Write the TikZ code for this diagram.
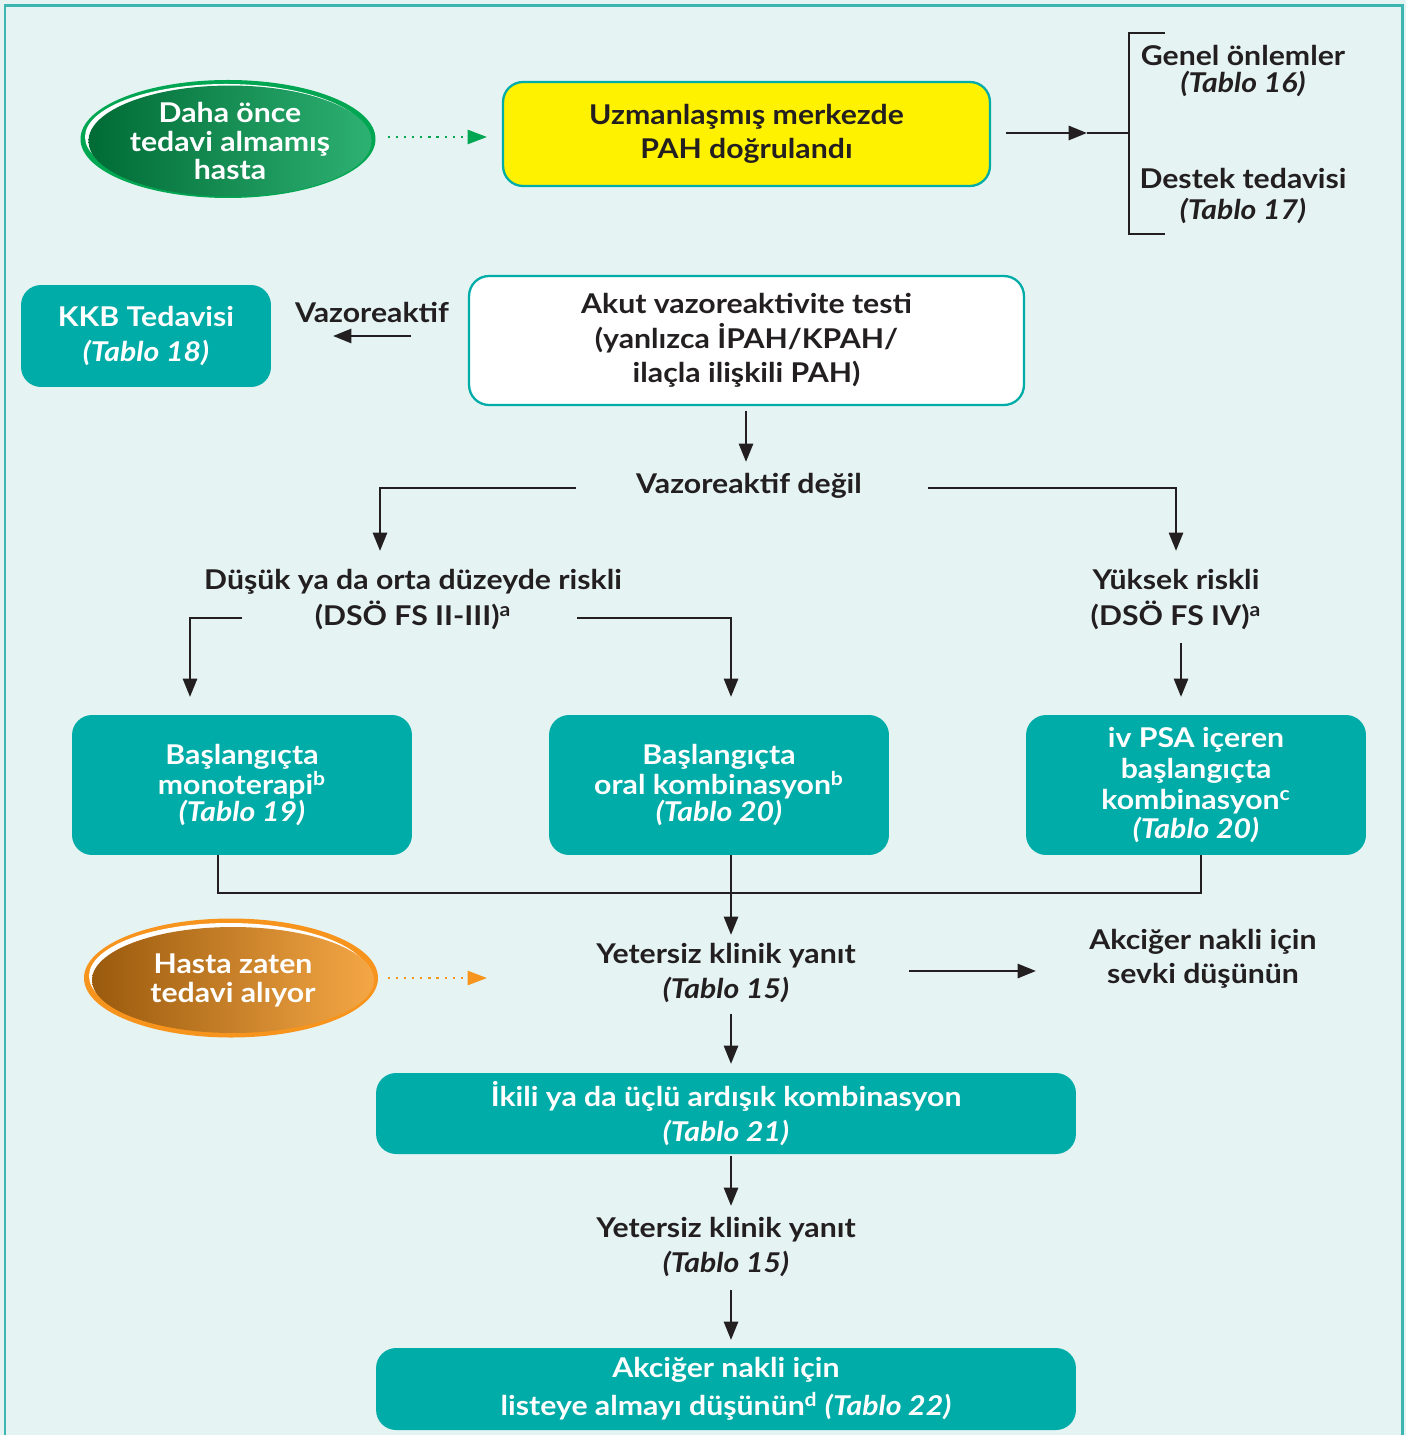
\documentclass[tikz,border=0pt]{standalone}
\usepackage{fontspec}
\setmainfont{Lato}[FakeStretch=1.11]
\usetikzlibrary{arrows.meta,shapes.geometric}
\definecolor{bgc}{HTML}{E5F4F3}
\definecolor{framec}{HTML}{3DB5B1}
\definecolor{tealc}{HTML}{00ACA7}
\definecolor{yellowc}{HTML}{FFF200}
\definecolor{txtc}{HTML}{231F20}
\definecolor{gring}{HTML}{00A651}
\definecolor{gdark}{HTML}{006B35}
\definecolor{glight}{HTML}{2DB172}
\definecolor{oring}{HTML}{F7941D}
\definecolor{odark}{HTML}{9A5A0D}
\definecolor{olight}{HTML}{F5A745}
\tikzset{
  base/.style={font=\bfseries\fontsize{15.5}{19.5}\selectfont, align=center, inner sep=0pt},
  lbl/.style={base, text=txtc},
  tbox/.style={base, rectangle, rounded corners=0.4cm, fill=tealc, text=white},
  ybox/.style={base, rectangle, rounded corners=0.4cm, fill=yellowc, draw=tealc, line width=1.3pt, text=txtc},
  wbox/.style={base, rectangle, rounded corners=0.4cm, fill=white, draw=tealc, line width=1.3pt, text=txtc},
  ell/.style={base, ellipse, text=white, minimum width=5.64cm, minimum height=2.12cm},
  conn/.style={txtc, line width=1.6pt},
  arr/.style={conn, -{Triangle[length=10.5pt,width=8pt]}},
  garr/.style={gring, line width=1.3pt, dash pattern=on 1.2pt off 3.4pt, -{Triangle[length=11pt,width=8pt]}},
  oarr/.style={oring, line width=1.3pt, dash pattern=on 1.2pt off 3.4pt, -{Triangle[length=11pt,width=8pt]}},
}
\newcommand{\tb}[1]{\textit{(Tablo #1)}}
\begin{document}
\begin{tikzpicture}[x=0.02cm,y=-0.02cm]
\useasboundingbox (0,0) rectangle (1406,1435);
\fill[bgc] (0,0) rectangle (1406,1435);
\draw[framec, line width=1.7pt] (5,1450) -- (5,6) -- (1402,6) -- (1402,1450);

% ellipse rims
\fill[gring] (228,139) ellipse [x radius=147.5, y radius=59];
\fill[white] (226,137) ellipse [x radius=141, y radius=53];
\fill[oring] (231,978) ellipse [x radius=147, y radius=59.5];
\fill[white] (229,976) ellipse [x radius=140, y radius=53];

% ellipses
\node[ell, left color=gdark, right color=glight] (new) at (230,141) {Daha önce\\[-3pt]tedavi almamış\\[-3pt]hasta};
\node[ell, left color=odark, right color=olight] (old) at (233,980) {Hasta zaten\\[-3pt]tedavi alıyor};

% boxes
\node[ybox, minimum width=9.74cm, minimum height=2.08cm] (pah) at (746.5,134) {Uzmanlaşmış merkezde\\PAH doğrulandı};
\node[tbox, minimum width=5cm, minimum height=2.04cm] (kkb) at (146,336) {KKB Tedavisi\\\tb{18}};
\node[wbox, minimum width=11.1cm, minimum height=2.58cm] (akut) at (746.5,340.5) {Akut vazoreaktivite testi\\(yanlızca İPAH/KPAH/\\ilaçla ilişkili PAH)};
\node[tbox, minimum width=6.8cm, minimum height=2.8cm] (mono) at (242,785) {Başlangıçta\\[-2pt]monoterapi\textsuperscript{b}\\[-4pt]\tb{19}};
\node[tbox, minimum width=6.8cm, minimum height=2.8cm] (oral) at (719,785) {Başlangıçta\\[-2pt]oral kombinasyon\textsuperscript{b}\\[-4pt]\tb{20}};
\node[tbox, minimum width=6.8cm, minimum height=2.8cm] (ivpsa) at (1196,785) {iv PSA içeren\\[-2pt]başlangıçta\\[-2pt]kombinasyon\textsuperscript{c}\\[-3pt]\tb{20}};
\node[tbox, minimum width=14cm, minimum height=1.62cm] (ikili) at (726,1113.5) {İkili ya da üçlü ardışık kombinasyon\\\tb{21}};
\node[tbox, minimum width=14cm, minimum height=1.64cm] (nakil) at (726,1389) {Akciğer nakli için\\[2pt]listeye almayı düşünün\textsuperscript{d} \tb{22}};

% labels
\node[lbl] (genel) at (1243,71) {Genel önlemler\\[-4pt]\tb{16}};
\node[lbl] (destek) at (1243,196) {Destek tedavisi\\[-2pt]\tb{17}};
\node[lbl] (vzr) at (372,312) {Vazoreaktif};
\node[lbl] (vzd) at (749,486) {Vazoreaktif değil};
\node[lbl] (low) at (413,600) {Düşük ya da orta düzeyde riskli\\[1pt](DSÖ FS II-III)\textsuperscript{a}};
\node[lbl] (high) at (1176,600) {Yüksek riskli\\[1pt](DSÖ FS IV)\textsuperscript{a}};
\node[lbl] (yk1) at (726,973) {Yetersiz klinik yanıt\\\tb{15}};
\node[lbl] (yk2) at (726,1247) {Yetersiz klinik yanıt\\\tb{15}};
\node[lbl] (sevk) at (1203,959) {Akciğer nakli için\\sevki düşünün};

% named junction coordinates
\coordinate (g1) at (388,137); \coordinate (g2) at (487,137);
\coordinate (o1) at (388,978); \coordinate (o2) at (487,978);
\coordinate (p1) at (1006,133); \coordinate (p2) at (1087,133);
\coordinate (br) at (1129,133);
\coordinate (brt) at (1129,33); \coordinate (brte) at (1165,33);
\coordinate (brb) at (1129,234); \coordinate (brbe) at (1165,234);
\coordinate (v1) at (411,336); \coordinate (v2) at (333,336);
\coordinate (a1) at (746,411); \coordinate (a2) at (746,462);
\coordinate (l1) at (576,488); \coordinate (l2) at (380,488); \coordinate (l3) at (380,551);
\coordinate (r1) at (928,488); \coordinate (r2) at (1176,488); \coordinate (r3) at (1176,551);
\coordinate (m1) at (242,618); \coordinate (m2) at (190,618); \coordinate (m3) at (190,697);
\coordinate (n1) at (577,618); \coordinate (n2) at (731,618); \coordinate (n3) at (731,697);
\coordinate (h1) at (1181,643); \coordinate (h2) at (1181,697);
\coordinate (c1) at (218,855); \coordinate (c2) at (218,893); \coordinate (c3) at (1201,893); \coordinate (c4) at (1201,855);
\coordinate (d1) at (731,855); \coordinate (d2) at (731,935);
\coordinate (s1) at (909,971); \coordinate (s2) at (1036,971);
\coordinate (e1) at (731,1014); \coordinate (e2) at (731,1064);
\coordinate (f1) at (731,1156); \coordinate (f2) at (731,1206);
\coordinate (k1) at (731,1290); \coordinate (k2) at (731,1340);

% connectors
\draw[garr] (g1) -- (g2);
\draw[oarr] (o1) -- (o2);
\draw[arr] (p1) -- (p2);
\draw[conn] (p2) -- (br);
\draw[conn] (brte) -- (brt) -- (brb) -- (brbe);
\draw[arr] (v1) -- (v2);
\draw[arr] (a1) -- (a2);
\draw[arr] (l1) -- (l2) -- (l3);
\draw[arr] (r1) -- (r2) -- (r3);
\draw[arr] (m1) -- (m2) -- (m3);
\draw[arr] (n1) -- (n2) -- (n3);
\draw[arr] (h1) -- (h2);
\draw[conn] (c1) -- (c2) -- (c3) -- (c4);
\draw[arr] (d1) -- (d2);
\draw[arr] (s1) -- (s2);
\draw[arr] (e1) -- (e2);
\draw[arr] (f1) -- (f2);
\draw[arr] (k1) -- (k2);
\end{tikzpicture}
\end{document}
